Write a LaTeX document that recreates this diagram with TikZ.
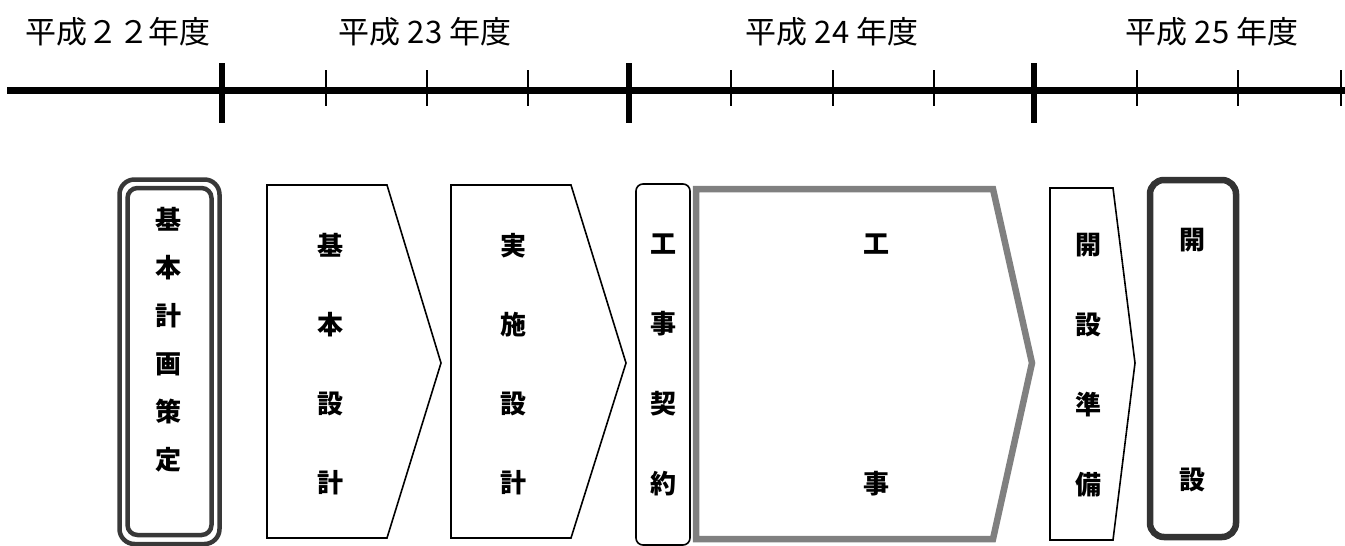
\documentclass[tikz,border=0pt]{standalone}
\usepackage{fontspec}
\newfontfamily\jp{Noto Sans CJK JP}
\begin{document}
\begin{tikzpicture}[x=1pt,y=-1pt,
  head/.style={font=\jp\fontsize{31}{34}\selectfont, inner sep=0pt},
  vt/.style={font=\jp\bfseries\fontsize{26}{#1}\selectfont, align=center, inner sep=0pt},
  thinbox/.style={draw=black, line width=1.6pt, fill=white},
  major/.style={line width=6pt},
  minor/.style={line width=1.5pt}]
\useasboundingbox (0,0) rectangle (1345,546);
% headings
\node[head] (h22) at (118,32) {平成２２年度};
\node[head] (h23) at (425,32) {平成 23 年度};
\node[head] (h24) at (832,32) {平成 24 年度};
\node[head] (h25) at (1212,32) {平成 25 年度};
% timeline
\coordinate (tl0) at (7,90);
\coordinate (tl1) at (1345,90);
\draw[line width=7pt] (tl0) -- (tl1);
\foreach \x in {222,629,1034} \draw[major] (\x,63) -- (\x,123);
\foreach \x in {326,427,528,731,833,934,1137,1238,1341} \draw[minor] (\x,70) -- (\x,106);
% box 1: double rounded
\draw[draw=black!78, line width=4.5pt, rounded corners=15pt] (119.5,179.5) rectangle (219.5,544);
\draw[draw=black!78, line width=4.5pt, rounded corners=10pt] (127.5,188) rectangle (211.5,535);
\node[vt=48] (kk) at (168,340) {基\\本\\計\\画\\策\\定};
% box 2: 基本設計
\draw[thinbox] (267,185) -- (387,185) -- (441,363) -- (387,538) -- (267,538) -- cycle;
\node[vt=79] (kd) at (330,364) {基\\本\\設\\計};
% box 3: 実施設計
\draw[thinbox] (451,185) -- (571,185) -- (626,363) -- (571,538) -- (451,538) -- cycle;
\node[vt=79] (jd) at (513,364) {実\\施\\設\\計};
% box 4: 工事契約
\draw[thinbox, rounded corners=7pt] (636,184) rectangle (690,545);
\node[vt=80] (kk2) at (663,365) {工\\事\\契\\約};
% box 5: 工事
\draw[draw=black!50, line width=6.5pt, fill=white] (696,189) -- (993,189) -- (1032,363) -- (993,539) -- (696,539) -- cycle;
\node[vt=240] (kj) at (876,365) {工\\事};
% box 6: 開設準備
\draw[thinbox] (1050,188) -- (1113,188) -- (1135,363) -- (1113,540) -- (1050,540) -- cycle;
\node[vt=80] (kj2) at (1088,365) {開\\設\\準\\備};
% box 7: 開設
\draw[draw=black!80, line width=6.5pt, rounded corners=14pt] (1150,180) rectangle (1236,537);
\node[vt=240] (ks) at (1192,360) {開\\設};
\end{tikzpicture}
\end{document}
